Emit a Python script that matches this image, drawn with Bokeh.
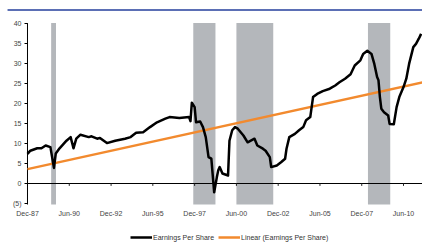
import pandas as pd
from bokeh.plotting import figure
from bokeh.models import ColumnDataSource, Range1d, Legend, LegendItem
from bokeh.core.properties import value
from bokeh.embed import file_html
from bokeh.resources import INLINE

# ---------------- data ----------------
eps_dates = ["1987-12-01", "1988-02-01", "1988-07-01", "1988-10-01", "1989-01-01",
             "1989-04-15", "1989-07-01", "1989-08-10", "1989-11-01", "1990-04-01",
             "1990-07-01", "1990-09-01", "1990-11-01", "1991-02-01", "1991-08-01",
             "1991-10-01", "1992-02-01", "1992-04-01", "1992-09-01", "1993-03-01",
             "1993-10-01", "1994-02-01", "1994-06-01", "1994-11-01", "1995-04-01",
             "1995-09-01", "1996-03-01", "1996-06-01", "1997-01-01", "1997-08-01",
             "1997-09-01", "1997-10-01", "1997-12-01", "1998-01-01", "1998-04-01",
             "1998-06-01", "1998-08-01", "1998-10-01", "1998-12-01", "1999-02-01",
             "1999-04-01", "1999-05-01", "1999-06-01", "1999-08-01", "1999-12-01",
             "2000-01-01", "2000-03-01", "2000-05-01", "2000-07-01", "2000-11-01",
             "2001-02-01", "2001-07-01", "2001-09-01", "2002-01-01", "2002-03-01",
             "2002-06-01", "2002-07-01", "2002-11-01", "2003-02-01", "2003-05-01",
             "2003-06-01", "2003-08-01", "2003-12-01", "2004-03-01", "2004-06-01",
             "2004-08-01", "2004-11-01", "2005-01-01", "2005-04-01", "2005-08-01",
             "2006-01-01", "2006-05-01", "2006-08-01", "2006-12-01", "2007-04-01",
             "2007-07-01", "2007-11-01", "2008-01-01", "2008-04-01", "2008-07-01",
             "2008-09-01", "2008-11-01", "2008-12-01", "2009-01-01", "2009-02-01",
             "2009-04-01", "2009-07-01", "2009-08-01", "2009-11-01", "2010-01-01",
             "2010-03-01", "2010-06-01", "2010-08-01", "2010-10-01", "2011-01-01",
             "2011-03-01", "2011-05-01", "2011-06-20"]
eps_values = [7.4, 8.2, 8.8, 8.8, 9.5,
              9.1, 3.9, 7.5, 8.8, 10.7,
              11.6, 8.8, 11.2, 12.2, 11.6,
              11.8, 11.2, 11.4, 10.1, 10.7,
              11.2, 11.6, 12.7, 12.8, 14.1,
              15.3, 16.2, 16.6, 16.4, 16.6,
              15.6, 20.2, 19.1, 15.3, 15.5,
              14.1, 11.6, 6.6, 6.2, -2.2,
              1.6, 3.3, 4.1, 2.5, 2.0,
              10.7, 13.3, 14.1, 13.7, 12.0,
              10.3, 11.2, 9.5, 8.7, 8.2,
              6.6, 4.1, 4.5, 5.3, 6.2,
              8.7, 11.6, 12.4, 13.3, 14.1,
              15.8, 16.6, 21.6, 22.4, 23.1,
              23.7, 24.5, 25.3, 26.2, 27.3,
              29.5, 30.8, 32.4, 33.2, 32.4,
              29.9, 26.6, 25.8, 21.6, 18.7,
              17.8, 17.0, 14.9, 14.8, 19.1,
              21.6, 24.1, 26.2, 29.9, 34.1,
              34.9, 36.2, 37.4]

trend_dates = ["1987-12-01", "2011-07-21"]
trend_values = [3.6, 25.3]

band_starts = ["1989-05-01", "1997-11-01", "2000-06-01", "2008-04-15"]
band_ends = ["1989-08-15", "1999-03-01", "2002-08-15", "2009-08-15"]

x_tick_dates = ["1987-12-01", "1990-06-01", "1992-12-01", "1995-06-01", "1997-12-01",
                "2000-06-01", "2002-12-01", "2005-06-01", "2007-12-01", "2010-06-01"]
x_tick_labels = ["Dec-87", "Jun-90", "Dec-92", "Jun-95", "Dec-97",
                 "Jun-00", "Dec-02", "Jun-05", "Dec-07", "Jun-10"]
y_ticks = [-5, 0, 5, 10, 15, 20, 25, 30, 35, 40]
y_tick_labels = ["(5)", "0", "5", "10", "15", "20", "25", "30", "35", "40"]

series_labels = ["Earnings Per Share", "Linear (Earnings Per Share)"]

# ---------------- layout / style constants ----------------
X_START, X_END = pd.Timestamp("1986-04-20"), pd.Timestamp("2011-07-21")
AXIS_X = pd.Timestamp("1987-12-01")        # where the value axis sits
RULE_X0 = pd.Timestamp("1986-09-21")       # left end of the blue top rule
Y_LO, Y_HI = -15.25, 45.75                 # frame covers the whole picture
AX_LO, AX_HI = -5.25, 40.1                 # extent of the value axis and bands
RULE_Y = 43.4                              # blue rule at the top
XLAB_Y = -7.4                              # baseline row for date labels
TICK_LEN = pd.Timedelta(days=65)           # ~3px
ZTICK_LEN = 0.6

FONT = "Liberation Sans"
ORANGE = "#f28a2e"
BAND = "#b4b7bb"
BLUE = "#5b6fb5"
LABEL_COLOR = "#444444"

to_dt = lambda lst: pd.to_datetime(lst)

p = figure(width=422, height=244, x_axis_type="datetime",
           x_range=Range1d(X_START, X_END), y_range=Range1d(Y_LO, Y_HI),
           x_axis_location=None, y_axis_location=None,
           output_backend="svg", toolbar_location=None,
           min_border=0, min_border_left=0, min_border_right=0,
           min_border_top=0, min_border_bottom=0)
p.outline_line_color = None
p.xgrid.grid_line_color = None
p.ygrid.grid_line_color = None

# blue rule at top
p.line([RULE_X0, X_END], [RULE_Y, RULE_Y], line_color=BLUE, line_width=2)

# shaded bands
band_src = ColumnDataSource(dict(left=to_dt(band_starts), right=to_dt(band_ends),
                                 bottom=[AX_LO] * len(band_starts),
                                 top=[AX_HI] * len(band_starts)))
p.quad(left="left", right="right", bottom="bottom", top="top", source=band_src,
       fill_color=BAND, line_color=None)

# zero line + date tick marks + date labels
tick_dt = to_dt(x_tick_dates)
p.line([AXIS_X, X_END], [0, 0], line_color="black", line_width=1)
p.segment(x0=tick_dt, y0=[0] * len(tick_dt), x1=tick_dt, y1=[-ZTICK_LEN] * len(tick_dt),
          line_color="#222222", line_width=1)
p.text(x=tick_dt, y=[XLAB_Y] * len(tick_dt), text=x_tick_labels,
       text_align="center", text_baseline="middle", text_font=value(FONT),
       text_font_size="7px", text_color=LABEL_COLOR)

# value axis
p.line([AXIS_X, AXIS_X], [AX_LO, AX_HI], line_color="black", line_width=1)
p.segment(x0=[AXIS_X - TICK_LEN] * len(y_ticks), y0=y_ticks,
          x1=[AXIS_X] * len(y_ticks), y1=y_ticks, line_color="black", line_width=1)
p.text(x=[AXIS_X] * len(y_ticks), y=y_ticks, text=y_tick_labels, x_offset=-6,
       text_align="right", text_baseline="middle", text_font=value(FONT),
       text_font_size="7px", text_color=LABEL_COLOR)

# series
trend_r = p.line(to_dt(trend_dates), trend_values, line_color=ORANGE, line_width=2.5)
eps_r = p.line(to_dt(eps_dates), eps_values, line_color="black", line_width=2.5,
               line_join="round")

# legend
legend = Legend(items=[LegendItem(label=series_labels[0], renderers=[eps_r]),
                       LegendItem(label=series_labels[1], renderers=[trend_r])],
                orientation="horizontal", location=(130, 3),
                border_line_color=None, background_fill_alpha=0,
                label_text_font=FONT, label_text_font_size="7px",
                label_text_color="#333333", glyph_width=22, glyph_height=8,
                label_height=8, label_standoff=1, spacing=4, padding=0, margin=0)
p.add_layout(legend)

open("out.html", "w").write(file_html(p, INLINE))
